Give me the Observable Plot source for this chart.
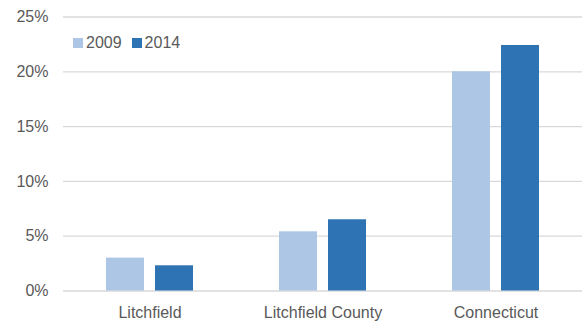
<!DOCTYPE html>
<html>
<head>
<meta charset="utf-8">
<script src="https://cdn.jsdelivr.net/npm/d3@7"></script>
<script src="https://cdn.jsdelivr.net/npm/@observablehq/plot@0.6"></script>
<style>
  html, body { margin: 0; padding: 0; background: #fff; }
  #wrap { position: relative; width: 586px; height: 322px; font-family: "Liberation Sans", Arial, sans-serif; }
  #legend { position: absolute; left: 73px; top: 34px; display: flex; align-items: center; font-size: 16px; color: #595959; }
  #legend .sw { width: 10px; height: 10px; display: inline-block; margin-right: 3px; }
  #legend .item { display: flex; align-items: center; margin-right: 10px; }
</style>
</head>
<body>
<div id="wrap"><div id="legend"></div></div>
<script>
const categories = ["Litchfield", "Litchfield County", "Connecticut"];
const years = ["2009", "2014"];
const values2009 = [0.030, 0.054, 0.200];
const values2014 = [0.023, 0.065, 0.224];
const colors = ["#adc6e5", "#2e74b5"];
const yTicks = [0, 0.05, 0.10, 0.15, 0.20, 0.25];

const data = [];
categories.forEach((c, i) => {
  data.push({category: c, year: years[0], value: values2009[i]});
  data.push({category: c, year: years[1], value: values2014[i]});
});

const chart = Plot.plot({
  width: 586,
  height: 322,
  marginLeft: 62,
  marginRight: 4,
  marginTop: 16.5,
  marginBottom: 31.5,
  style: {fontFamily: "'Liberation Sans', Arial, sans-serif", fontSize: "16px", color: "#595959", background: "#fff"},
  fx: {domain: categories, padding: 0, label: null, tickSize: 0, tickPadding: 16, axis: "bottom"},
  x: {domain: years, paddingInner: 0.22, paddingOuter: 0.86, axis: null},
  y: {domain: [0, 0.25], ticks: yTicks, tickFormat: d3.format(".0%"), label: null, tickSize: 0, tickPadding: 15},
  color: {domain: years, range: colors},
  marks: [
    Plot.ruleY(yTicks, {stroke: "#d9d9d9", strokeWidth: 1.3}),
    Plot.barY(data, {fx: "category", x: "year", y: "value", fill: "year"})
  ]
});

document.getElementById("wrap").prepend(chart);

const legend = document.getElementById("legend");
years.forEach((y, i) => {
  const item = document.createElement("div");
  item.className = "item";
  const sw = document.createElement("span");
  sw.className = "sw";
  sw.style.background = colors[i];
  item.appendChild(sw);
  item.appendChild(document.createTextNode(y));
  legend.appendChild(item);
});
</script>
</body>
</html>
